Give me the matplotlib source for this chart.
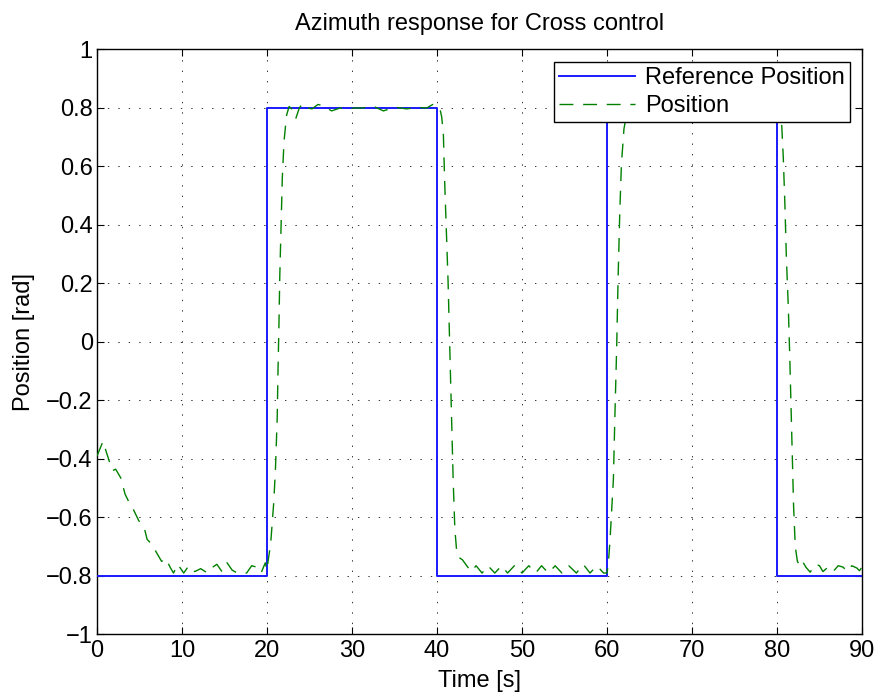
import matplotlib
matplotlib.use("Agg")
import matplotlib.pyplot as plt

plt.rcParams['font.family'] = ['Liberation Sans', 'DejaVu Sans']
plt.rcParams['lines.scale_dashes'] = False
plt.rcParams['axes.unicode_minus'] = True

# Reference position (step signal)
ref_t = [0, 20, 40, 60, 80, 90]
ref_v = [-0.8, 0.8, -0.8, 0.8, -0.8, -0.8]

pos_t = [0.0, 0.7, 1.3, 1.8, 2.2, 2.8, 3.3, 3.8, 4.2, 4.9, 5.6, 5.9, 6.4, 7.0, 7.6, 8.1,
         8.6, 9.0, 9.5, 10.2, 10.8, 11.5, 12.2, 13.0, 13.6, 14.1, 14.7, 15.3, 15.9, 16.5,
         17.6, 18.2, 18.8, 19.3, 19.8, 20.0,
         20.15, 20.43, 20.8, 21.0, 21.2, 21.3, 21.4, 21.5, 21.65, 21.8, 22.0, 22.3, 22.6,
         23.0, 23.4, 23.8, 24.2, 24.8, 25.3, 26.0, 26.6, 27.6, 28.6, 29.4, 30.3, 31.2, 32.5,
         33.7, 35.0, 36.4, 37.8, 38.8, 39.5, 40.0,
         40.2, 40.4, 40.55, 40.75, 40.9, 41.3, 41.5, 41.7, 41.9, 42.1, 42.3, 42.5, 43.0,
         43.5, 44.0, 44.6, 45.3, 46.0, 46.8, 47.6, 48.3, 49.2, 50.0, 50.8, 51.6, 52.3, 53.1,
         53.9, 54.7, 55.5, 56.4, 57.2, 58.0, 58.8, 59.6, 60.0,
         60.15, 60.35, 60.75, 60.94, 61.14, 61.3, 61.5, 61.7, 62.0, 62.4, 62.8, 63.3, 63.8,
         64.3, 65.0, 66.0, 67.5, 69.0, 70.5, 72.0, 73.5, 75.0, 76.5, 78.0, 79.3, 80.0,
         80.2, 80.4, 80.55, 80.74, 80.94, 81.1, 81.33, 81.5, 81.65, 81.8, 81.95, 82.15,
         82.4, 82.6, 82.9, 83.4, 83.9, 84.5, 85.0, 85.4, 86.0, 86.6, 87.2, 87.8, 88.2,
         88.8, 89.4, 89.7, 90.0]
pos_v = [-0.39, -0.34, -0.395, -0.44, -0.435, -0.465, -0.52, -0.55, -0.568, -0.61, -0.64,
         -0.675, -0.69, -0.72, -0.75, -0.74, -0.77, -0.79, -0.76, -0.79, -0.765, -0.785,
         -0.775, -0.79, -0.77, -0.76, -0.785, -0.755, -0.78, -0.79, -0.79, -0.765, -0.77,
         -0.79, -0.755, -0.78,
         -0.745, -0.69, -0.546, -0.43, -0.26, -0.09, 0.05, 0.22, 0.39, 0.56, 0.685, 0.775,
         0.805, 0.795, 0.765, 0.80, 0.815, 0.80, 0.797, 0.812, 0.808, 0.79, 0.80, 0.795,
         0.80, 0.80, 0.806, 0.79, 0.803, 0.797, 0.802, 0.80, 0.812, 0.808,
         0.80, 0.79, 0.77, 0.71, 0.55, 0.21, -0.016, -0.244, -0.47, -0.64, -0.71, -0.735,
         -0.745, -0.765, -0.785, -0.765, -0.79, -0.765, -0.79, -0.765, -0.79, -0.762, -0.79,
         -0.765, -0.79, -0.765, -0.79, -0.765, -0.79, -0.765, -0.79, -0.76, -0.79, -0.765,
         -0.79, -0.79,
         -0.76, -0.68, -0.47, -0.24, -0.016, 0.21, 0.44, 0.61, 0.73, 0.79, 0.81, 0.775, 0.80,
         0.815, 0.80, 0.81, 0.79, 0.80, 0.80, 0.805, 0.79, 0.80, 0.80, 0.805, 0.81, 0.80,
         0.79, 0.77, 0.745, 0.63, 0.46, 0.29, 0.12, -0.05, -0.22, -0.39, -0.56, -0.70,
         -0.75, -0.76, -0.745, -0.77, -0.787, -0.76, -0.765, -0.785, -0.77, -0.785, -0.765,
         -0.77, -0.785, -0.765, -0.773, -0.782, -0.77]

xticks = [0, 10, 20, 30, 40, 50, 60, 70, 80, 90]
yticks = [-1, -0.8, -0.6, -0.4, -0.2, 0, 0.2, 0.4, 0.6, 0.8, 1]
ytick_labels = ['\u22121', '\u22120.8', '\u22120.6', '\u22120.4', '\u22120.2', '0',
                '0.2', '0.4', '0.6', '0.8', '1']

FS = 17

fig = plt.figure(figsize=(8.77, 6.95), dpi=100, facecolor='white')
ax = fig.add_axes([0.1106, 0.0871, 0.8723, 0.8417])

ax.plot(ref_t, ref_v, drawstyle='steps-post', color='#1a1aff', lw=1.4,
        label='Reference Position', zorder=3)
ax.plot(pos_t, pos_v, color='#008000', lw=1.0, linestyle=(0, (10.0, 7.0)),
        label='Position', zorder=4)

ax.set_xlim(0, 90)
ax.set_ylim(-1, 1)
ax.set_xticks(xticks)
ax.set_xticklabels([str(t) for t in xticks])
ax.set_yticks(yticks)
ax.set_yticklabels(ytick_labels)

ax.tick_params(axis='both', which='major', direction='in', length=5, width=0.8,
               top=True, right=True, labelsize=FS, color='black')
ax.tick_params(axis='x', pad=4)
ax.tick_params(axis='y', pad=3)
for s in ax.spines.values():
    s.set_linewidth(1.0)
    s.set_color('black')

ax.grid(True, color='#333333', linestyle=(0, (1, 6.5)), linewidth=0.7)
ax.set_axisbelow(True)

ax.set_title('Azimuth response for Cross control', fontsize=FS, pad=14)
ax.set_xlabel('Time [s]', fontsize=FS, labelpad=6)
ax.set_ylabel('Position [rad]', fontsize=FS, labelpad=8)

leg = ax.legend(loc='upper right', bbox_to_anchor=(0.984, 0.979), borderaxespad=0,
                fontsize=FS, frameon=True, fancybox=False, framealpha=1,
                edgecolor='black', handlelength=3.2, handletextpad=0.42,
                borderpad=0.22, labelspacing=0.25)
leg.get_frame().set_linewidth(1.0)
leg.set_zorder(10)

fig.savefig('out.png', dpi=100, facecolor='white')
